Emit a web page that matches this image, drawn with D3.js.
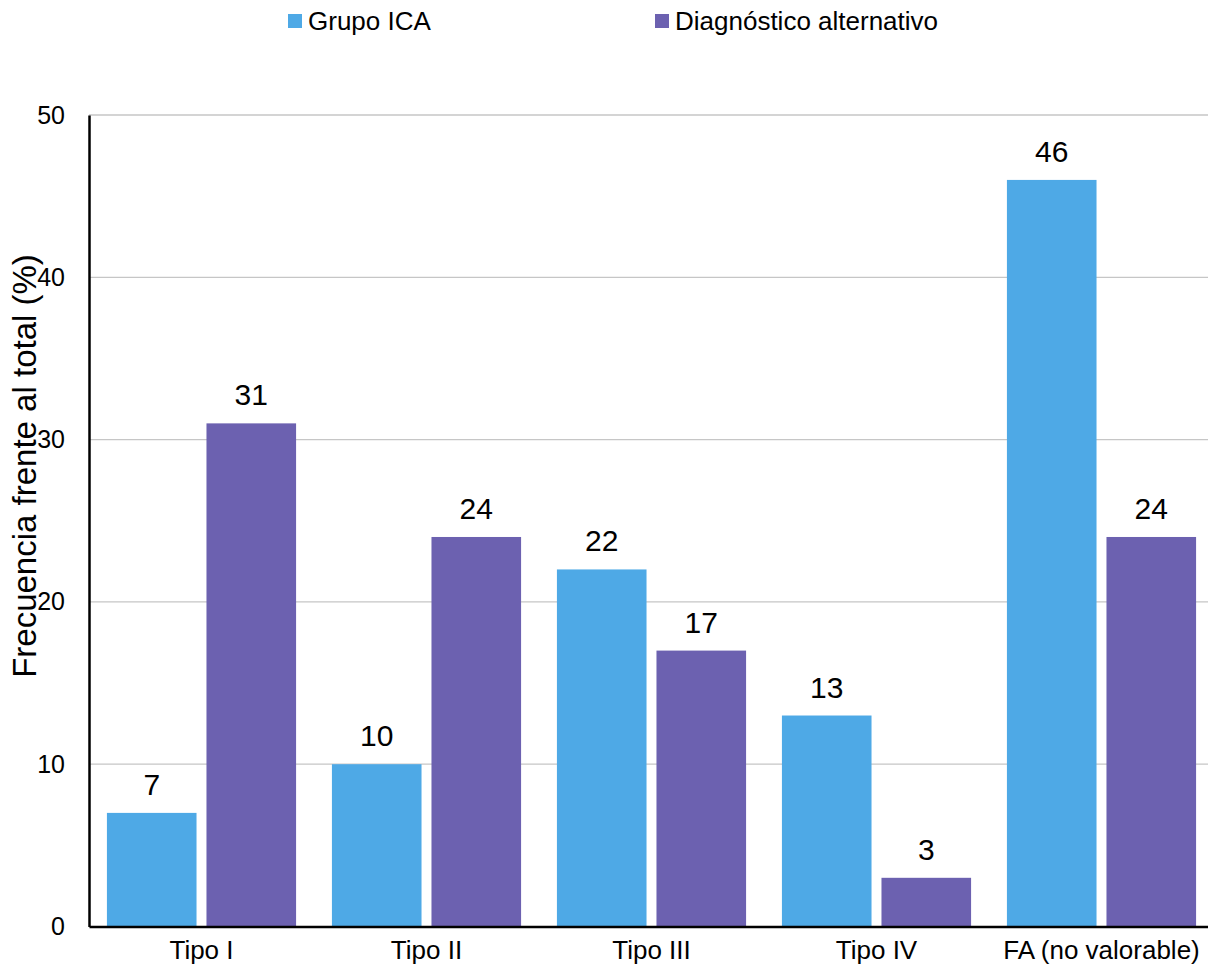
<!DOCTYPE html>
<html>
<head>
<meta charset="utf-8">
<script src="https://cdn.jsdelivr.net/npm/d3@7/dist/d3.min.js"></script>
<style>
  html, body { margin: 0; padding: 0; background: #fff; }
  svg { display: block; font-family: "Liberation Sans", Arial, sans-serif; }
</style>
</head>
<body>
<svg id="chart" width="1208" height="974"></svg>
<script>
// Categories and series
const categories = ["Tipo I", "Tipo II", "Tipo III", "Tipo IV", "FA (no valorable)"];
const seriesNames = ["Grupo ICA", "Diagnóstico alternativo"];
const grupoICA = [7, 10, 22, 13, 46];
const diagAlternativo = [31, 24, 17, 3, 24];
const yTicks = [0, 10, 20, 30, 40, 50];
const colors = ["#4EA9E6", "#6C61B0"];

const seriesValues = [grupoICA, diagAlternativo];
const rows = categories.map((c, i) => ({
  category: c,
  values: seriesNames.map((s, j) => ({ series: s, value: seriesValues[j][i], idx: j }))
}));

const svg = d3.select("#chart");
const plotLeft = 89, plotTop = 115, plotBottom = 926.5, plotRight = 1214;

const x0 = d3.scaleBand().domain(categories).range([plotLeft, plotRight]).paddingInner(0).paddingOuter(0);
const x1 = d3.scaleBand().domain(seriesNames).range([0, x0.bandwidth()])
  .paddingInner(0.1).paddingOuter(0.18);
const y = d3.scaleLinear().domain([0, 50]).range([plotBottom, plotTop]);

// Horizontal gridlines
svg.append("g")
  .selectAll("line")
  .data(yTicks.filter(t => t > 0))
  .join("line")
  .attr("x1", plotLeft).attr("x2", 1208)
  .attr("y1", d => y(d)).attr("y2", d => y(d))
  .attr("stroke", "#c6c6c6").attr("stroke-width", 1.3);

// Y axis
const yAxis = svg.append("g")
  .attr("transform", `translate(${plotLeft},0)`)
  .call(d3.axisLeft(y).tickValues(yTicks).tickSize(0).tickPadding(24));
yAxis.select(".domain").attr("stroke", "#000").attr("stroke-width", 2.5);
yAxis.selectAll("text").attr("font-size", 25).attr("fill", "#000")
  .attr("font-family", "Liberation Sans, Arial, sans-serif");

// Bars
const groups = svg.append("g")
  .selectAll("g")
  .data(rows)
  .join("g")
  .attr("transform", d => `translate(${x0(d.category)},0)`);

groups.selectAll("rect")
  .data(d => d.values)
  .join("rect")
  .attr("x", d => x1(d.series))
  .attr("width", x1.bandwidth())
  .attr("y", d => y(d.value))
  .attr("height", d => y(0) - y(d.value))
  .attr("fill", d => colors[d.idx]);

// Value labels
groups.selectAll("text")
  .data(d => d.values)
  .join("text")
  .attr("x", d => x1(d.series) + x1.bandwidth() / 2)
  .attr("y", d => y(d.value) - 18)
  .attr("text-anchor", "middle")
  .attr("font-size", 30)
  .attr("fill", "#000")
  .text(d => d.value);

// X axis
const xAxis = svg.append("g")
  .attr("transform", `translate(0,${plotBottom})`)
  .call(d3.axisBottom(x0).tickSize(0).tickPadding(14));
xAxis.select(".domain").attr("stroke", "#000").attr("stroke-width", 2.5);
xAxis.selectAll("text").attr("font-size", 26).attr("fill", "#000")
  .attr("font-family", "Liberation Sans, Arial, sans-serif")
  .attr("dy", "0.71em");

// Y axis title
svg.append("text")
  .attr("transform", "translate(36,466) rotate(-90)")
  .attr("text-anchor", "middle")
  .attr("font-size", 33)
  .attr("fill", "#000")
  .text("Frecuencia frente al total (%)");

// Legend
const legendX = [288, 655];
const legend = svg.append("g")
  .selectAll("g")
  .data(seriesNames)
  .join("g")
  .attr("transform", (d, i) => `translate(${legendX[i]},0)`);
legend.append("rect")
  .attr("x", 0).attr("y", 14).attr("width", 14).attr("height", 14)
  .attr("fill", (d, i) => colors[i]);
legend.append("text")
  .attr("x", 20).attr("y", 30)
  .attr("font-size", 26)
  .attr("fill", "#000")
  .text(d => d);
</script>
</body>
</html>
